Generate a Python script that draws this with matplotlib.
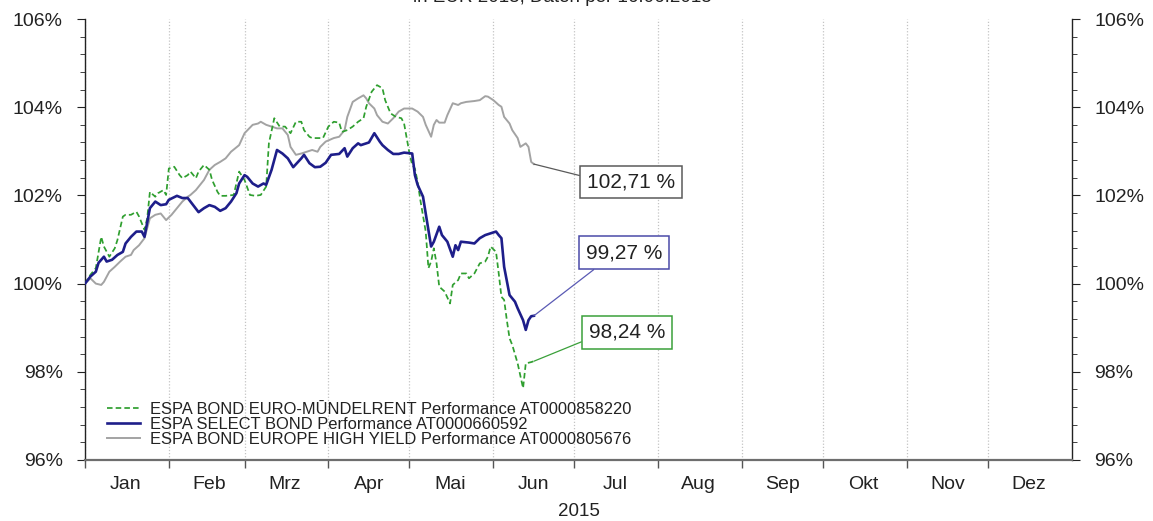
import matplotlib
matplotlib.use("Agg")
import matplotlib.pyplot as plt
from matplotlib.ticker import MultipleLocator, FuncFormatter
import pandas as pd

plt.rcParams['font.family'] = ['Liberation Sans', 'DejaVu Sans']

YEAR = 2015
month_labels = ['Jan', 'Feb', 'Mrz', 'Apr', 'Mai', 'Jun', 'Jul', 'Aug', 'Sep', 'Okt', 'Nov', 'Dez']
title_text = 'in EUR 2015, Daten per 16.06.2015'

# ESPA BOND EURO-MUENDELRENT (green, dashed)
green_name = 'ESPA BOND EURO-MŪNDELRENT Performance AT0000858220'
green_dates = ['01-01', '01-03', '01-05', '01-07', '01-08', '01-10', '01-12', '01-13', '01-15', '01-16',
               '01-18', '01-20', '01-21', '01-23', '01-24', '01-25', '01-27', '01-28', '01-30', '01-31',
               '02-01', '02-03', '02-05', '02-06', '02-08', '02-09', '02-11', '02-12', '02-14', '02-16',
               '02-17', '02-19', '02-20', '02-22', '02-25', '02-27', '03-01', '03-03', '03-05', '03-07',
               '03-09', '03-10', '03-12', '03-14', '03-16', '03-18', '03-20', '03-22', '03-23', '03-25',
               '03-26', '03-30', '04-01', '04-03', '04-05', '04-06', '04-08', '04-10', '04-12', '04-14',
               '04-15', '04-17', '04-19', '04-21', '04-22', '04-24', '04-26', '04-28', '04-29', '05-01',
               '05-02', '05-03', '05-04', '05-05', '05-07', '05-08', '05-09', '05-10', '05-11', '05-12',
               '05-14', '05-16', '05-17', '05-19', '05-20', '05-22', '05-23', '05-25', '05-27', '05-29',
               '05-30', '05-31', '06-02', '06-03', '06-04', '06-05', '06-06', '06-07', '06-08', '06-10',
               '06-12', '06-13', '06-15', '06-16']
green_vals = [100.00, 100.20, 100.35, 101.06, 100.84, 100.61, 100.80, 100.99, 101.52, 101.56,
              101.56, 101.63, 101.52, 101.22, 101.48, 102.08, 101.97, 102.05, 102.12, 102.01,
              102.61, 102.65, 102.46, 102.39, 102.46, 102.54, 102.39, 102.54, 102.69, 102.58,
              102.35, 102.08, 101.99, 101.99, 102.01, 102.54, 102.35, 102.01, 101.99, 102.01,
              102.20, 103.18, 103.75, 103.56, 103.56, 103.41, 103.67, 103.67, 103.48, 103.33,
              103.30, 103.30, 103.56, 103.67, 103.65, 103.44, 103.48, 103.56, 103.67, 103.75,
              104.01, 104.35, 104.50, 104.43, 104.16, 103.86, 103.78, 103.75, 103.63, 102.95,
              102.69, 102.61, 102.31, 101.90, 101.18, 100.35, 100.50, 100.80, 100.46, 99.93,
              99.82, 99.55, 99.97, 100.08, 100.23, 100.23, 100.12, 100.23, 100.46, 100.50,
              100.61, 100.84, 100.72, 100.23, 99.70, 99.63, 99.17, 98.76, 98.61, 98.19,
              97.63, 98.19, 98.22, 98.24]

# ESPA SELECT BOND (navy)
blue_name = 'ESPA SELECT BOND Performance AT0000660592'
blue_dates = ['01-01', '01-03', '01-05', '01-06', '01-08', '01-09', '01-11', '01-13', '01-15', '01-16',
              '01-18', '01-20', '01-22', '01-23', '01-25', '01-27', '01-29', '01-31', '02-01', '02-04',
              '02-06', '02-08', '02-10', '02-12', '02-14', '02-16', '02-18', '02-20', '02-22', '02-24',
              '02-26', '02-27', '03-01', '03-02', '03-04', '03-06', '03-08', '03-09', '03-11', '03-13',
              '03-15', '03-17', '03-19', '03-22', '03-23', '03-25', '03-27', '03-29', '03-31', '04-02',
              '04-05', '04-07', '04-08', '04-10', '04-12', '04-13', '04-16', '04-18', '04-20', '04-21',
              '04-23', '04-25', '04-27', '04-29', '05-02', '05-03', '05-04', '05-06', '05-07', '05-09',
              '05-10', '05-12', '05-13', '05-15', '05-17', '05-18', '05-19', '05-20', '05-23', '05-25',
              '05-27', '05-29', '05-31', '06-02', '06-03', '06-04', '06-05', '06-07', '06-09', '06-10',
              '06-12', '06-13', '06-14', '06-15', '06-16']
blue_vals = [100.00, 100.16, 100.27, 100.47, 100.61, 100.50, 100.54, 100.65, 100.72, 100.91,
             101.06, 101.18, 101.18, 101.06, 101.71, 101.86, 101.78, 101.80, 101.90, 101.99,
             101.94, 101.94, 101.78, 101.62, 101.71, 101.78, 101.74, 101.65, 101.71, 101.86,
             102.05, 102.27, 102.46, 102.42, 102.27, 102.20, 102.27, 102.24, 102.58, 103.03,
             102.95, 102.84, 102.64, 102.84, 102.92, 102.73, 102.64, 102.65, 102.74, 102.92,
             102.94, 103.07, 102.88, 103.07, 103.18, 103.14, 103.20, 103.41, 103.22, 103.14,
             103.03, 102.94, 102.94, 102.97, 102.95, 102.46, 102.24, 101.97, 101.59, 100.84,
             100.95, 101.29, 101.10, 100.95, 100.61, 100.87, 100.76, 100.95, 100.93, 100.91,
             101.03, 101.10, 101.14, 101.18, 101.10, 101.03, 100.38, 99.74, 99.59, 99.44,
             99.17, 98.95, 99.17, 99.26, 99.27]

# ESPA BOND EUROPE HIGH YIELD (gray)
gray_name = 'ESPA BOND EUROPE HIGH YIELD Performance AT0000805676'
gray_dates = ['01-01', '01-03', '01-05', '01-07', '01-08', '01-10', '01-12', '01-14', '01-16', '01-18',
              '01-19', '01-21', '01-23', '01-25', '01-27', '01-29', '01-31', '02-02', '02-04', '02-06',
              '02-08', '02-09', '02-11', '02-14', '02-16', '02-18', '02-20', '02-22', '02-24', '02-27',
              '03-01', '03-04', '03-06', '03-07', '03-09', '03-11', '03-13', '03-15', '03-17', '03-18',
              '03-20', '03-22', '03-24', '03-26', '03-28', '03-29', '03-31', '04-03', '04-05', '04-07',
              '04-08', '04-10', '04-12', '04-14', '04-15', '04-16', '04-18', '04-19', '04-21', '04-23',
              '04-25', '04-27', '04-29', '05-02', '05-04', '05-06', '05-07', '05-09', '05-10', '05-11',
              '05-12', '05-14', '05-15', '05-17', '05-19', '05-20', '05-22', '05-25', '05-27', '05-29',
              '05-30', '06-01', '06-03', '06-04', '06-05', '06-07', '06-08', '06-10', '06-11', '06-13',
              '06-14', '06-15', '06-16']
gray_vals = [100.00, 100.12, 100.00, 99.97, 100.04, 100.27, 100.38, 100.50, 100.61, 100.65,
             100.76, 100.87, 101.03, 101.48, 101.56, 101.59, 101.44, 101.56, 101.71, 101.86,
             101.97, 102.01, 102.12, 102.35, 102.58, 102.69, 102.76, 102.84, 102.99, 103.14,
             103.41, 103.60, 103.63, 103.67, 103.60, 103.56, 103.52, 103.52, 103.37, 103.10,
             102.92, 102.95, 102.99, 103.03, 102.99, 103.10, 103.22, 103.30, 103.33, 103.48,
             103.78, 104.12, 104.20, 104.27, 104.20, 104.09, 103.97, 103.82, 103.67, 103.63,
             103.75, 103.90, 103.97, 103.97, 103.90, 103.78, 103.60, 103.33, 103.60, 103.71,
             103.65, 103.65, 103.82, 104.09, 104.05, 104.09, 104.12, 104.14, 104.16, 104.25,
             104.24, 104.16, 104.05, 104.01, 103.78, 103.63, 103.48, 103.30, 103.10, 103.18,
             103.10, 102.76, 102.71]


def to_dates(days):
    return pd.to_datetime([f'{YEAR}-{d}' for d in days])


def pct_label(v):
    return f'{v:.2f}'.replace('.', ',') + ' %'


fig = plt.figure(figsize=(11.53, 5.21), dpi=100)
ax = fig.add_axes([85 / 1153, 61 / 521, 987 / 1153, 441 / 521])

gray_c, blue_c, green_c = '#a3a3a3', '#1e1e8a', '#2f9f2f'

l_gray, = ax.plot(to_dates(gray_dates), gray_vals, color=gray_c, lw=1.4, label=gray_name, zorder=3)
l_green, = ax.plot(to_dates(green_dates), green_vals, color=green_c, lw=1.25, dashes=(3.2, 1.8),
                   label=green_name, zorder=4)
l_blue, = ax.plot(to_dates(blue_dates), blue_vals, color=blue_c, lw=1.9, label=blue_name, zorder=5)

# end value boxes
boxes = [
    (gray_dates, gray_vals, '#5a5a5a', '#5a5a5a', (97, -18), (0, 0.75)),
    (blue_dates, blue_vals, '#4a4aa8', '#5a5ab4', (90, 63), (0.23, 0)),
    (green_dates, green_vals, '#3aa03a', '#3aa03a', (93, 29), (0, 0.15)),
]
for dates, vals, edge, line_c, offset, rel in boxes:
    ax.annotate(pct_label(vals[-1]), xy=(to_dates(dates[-1:])[0], vals[-1]),
                xytext=offset, textcoords='offset pixels', ha='center', va='center',
                fontsize=15, color='#222222', zorder=6,
                bbox=dict(boxstyle='square,pad=0.33', fc='white', ec=edge, lw=1.1),
                arrowprops=dict(arrowstyle='-', color=line_c, lw=0.9, relpos=rel,
                                shrinkA=0, shrinkB=0))

ax.set_xlim(pd.Timestamp(f'{YEAR}-01-01'), pd.Timestamp(f'{YEAR + 1}-01-01'))
ax.set_ylim(96, 106)

month_starts = pd.date_range(f'{YEAR}-01-01', periods=12, freq='MS')
month_mids = month_starts + pd.Timedelta(days=15)
ax.set_xticks(month_starts)
ax.set_xticklabels([])
ax.set_xticks(month_mids, minor=True)
ax.set_xticklabels(month_labels, minor=True)
ax.tick_params(axis='x', which='major', length=6, width=1, color='#555555', direction='out')
ax.tick_params(axis='x', which='minor', length=0, pad=11.5, labelsize=14, labelcolor='#222222')
ax.grid(axis='x', which='major', linestyle=(0, (1, 1.5)), color='#c4c4c4', lw=0.9)
ax.set_xlabel(str(YEAR), fontsize=13.5, color='#222222', labelpad=7)

ax.yaxis.set_major_locator(MultipleLocator(2))
ax.yaxis.set_minor_locator(MultipleLocator(0.4))
ax.yaxis.set_major_formatter(FuncFormatter(lambda v, _: f'{v:.0f}%'))
ax.tick_params(axis='y', which='both', left=True, right=True, labelleft=True, labelright=True,
               direction='out', color='#222222')
ax.tick_params(axis='y', which='major', length=6, pad=10, labelsize=14, labelcolor='#222222')
ax.tick_params(axis='y', which='minor', length=3.5)

ax.spines['top'].set_visible(False)
for side in ('left', 'right'):
    ax.spines[side].set_color('#222222')
    ax.spines[side].set_linewidth(1)
ax.spines['bottom'].set_color('#6e6e6e')
ax.spines['bottom'].set_linewidth(1.6)

ax.legend(handles=[l_green, l_blue, l_gray], loc='upper left', bbox_to_anchor=(0.0223, 0.131),
          frameon=False, borderpad=0, borderaxespad=0, fontsize=11.9, handlelength=2.0,
          handletextpad=0.6, labelspacing=0.0, labelcolor='#222222')

fig.text(562 / 1153, 1 - 2 / 521, title_text, ha='center', va='baseline', fontsize=13.5,
         color='#222222')

fig.savefig('out.png', dpi=100)
